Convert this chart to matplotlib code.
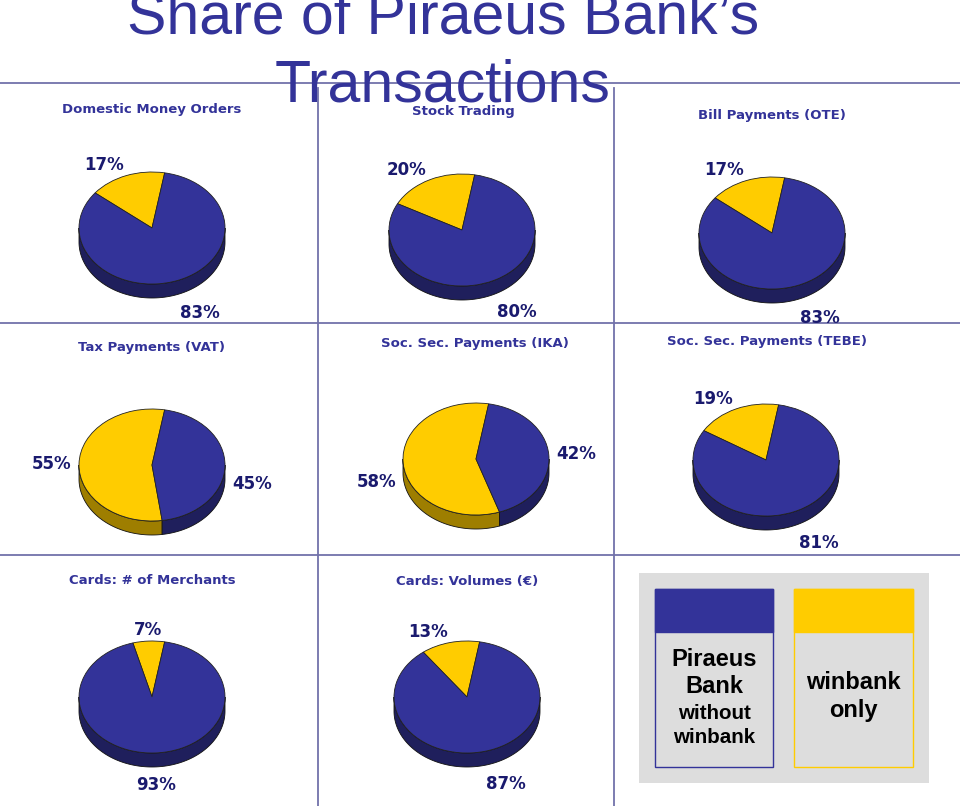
import numpy as np
import matplotlib.pyplot as plt
from matplotlib.patches import Polygon, Rectangle

# data
titles = ['Domestic Money Orders', 'Stock Trading', 'Bill Payments (OTE)',
          'Tax Payments (VAT)', 'Soc. Sec. Payments (IKA)', 'Soc. Sec. Payments (TEBE)',
          'Cards: # of Merchants', 'Cards: Volumes (€)']
winbank = [17, 20, 17, 55, 58, 19, 7, 13]
piraeus = [83, 80, 83, 45, 42, 81, 93, 87]

# layout in pixels (from top-left)
W, H = 960, 806
pie_cx = [152, 462, 772, 152, 476, 766, 152, 467]
pie_cy = [228, 230, 233, 465, 459, 460, 697, 697]
title_x = [152, 463, 772, 152, 475, 767, 152, 467]
title_y = [110, 111, 115, 347, 343, 342, 580, 581]

RX, RY, DEPTH = 73.0, 56.0, 0.25
BLUE, YELLOW = '#333399', '#FFCC00'
BLUE_SIDE, YELLOW_SIDE = '#1F1F5C', '#9E7E00'
LINE = '#7272AA'
NAVY = '#1A1A6E'

fig = plt.figure(figsize=(9.6, 8.06), dpi=100)

# background axes in pixel coords for lines, titles, legend
bg = fig.add_axes([0, 0, 1, 1])
bg.set_xlim(0, W)
bg.set_ylim(H, 0)
bg.axis('off')

for y in [83, 323, 555]:
    bg.plot([0, W], [y, y], color=LINE, lw=1.3)
for x in [318, 614]:
    bg.plot([x, x], [88, H], color=LINE, lw=1.3)

bg.text(443, 33, 'Share of Piraeus Bank\u2019s', ha='center', va='baseline',
        fontsize=42.5, family='Liberation Sans', color=BLUE)
bg.text(443, 102, 'Transactions', ha='center', va='baseline',
        fontsize=42.5, family='Liberation Sans', color=BLUE)

for i, t in enumerate(titles):
    bg.text(title_x[i], title_y[i], t, ha='center', va='center', fontsize=9.5,
            fontweight='bold', family='DejaVu Sans', color=BLUE)

# legend box
bg.add_patch(Rectangle((639, 573), 290, 210, fc='#DDDDDD', ec='none'))
bg.add_patch(Rectangle((655, 589), 118, 178, fc='none', ec=BLUE, lw=1))
bg.add_patch(Rectangle((655, 589), 118, 43, fc=BLUE, ec=BLUE, lw=1))
bg.add_patch(Rectangle((794, 589), 119, 178, fc='none', ec=YELLOW, lw=1))
bg.add_patch(Rectangle((794, 589), 119, 43, fc=YELLOW, ec=YELLOW, lw=1))
lf = dict(ha='center', va='baseline', family='Liberation Sans', fontweight='bold', color='black')
bg.text(714, 666, 'Piraeus', fontsize=17, **lf)
bg.text(714, 693, 'Bank', fontsize=17, **lf)
bg.text(714, 719, 'without', fontsize=14.8, **lf)
bg.text(714, 743, 'winbank', fontsize=14.8, **lf)
bg.text(853, 689, 'winbank', fontsize=17, **lf)
bg.text(853, 717, 'only', fontsize=17, **lf)

# pies
for i in range(8):
    cx, cy = pie_cx[i], pie_cy[i]
    ax = fig.add_axes([(cx - 110) / W, 1 - (cy + 100) / H, 220 / W, 200 / H])
    vals = [winbank[i], piraeus[i]]
    ax.pie(vals, colors=[YELLOW, BLUE], startangle=80, counterclock=True,
           wedgeprops=dict(edgecolor='#222222', linewidth=0.6))
    ax.set_aspect('auto')
    ax.set_xlim(-110 / RX, 110 / RX)
    ax.set_ylim(-100 / RY, 100 / RY)
    ax.axis('off')

    bounds = 80 + 360 * np.cumsum([0] + vals) / sum(vals)
    for k, sc in enumerate([YELLOW_SIDE, BLUE_SIDE]):
        a0, a1 = max(bounds[k], 180), min(bounds[k + 1], 360)
        if a1 > a0:
            t = np.radians(np.linspace(a0, a1, 120))
            xs = np.concatenate([np.cos(t), np.cos(t[::-1])])
            ys = np.concatenate([np.sin(t), np.sin(t[::-1]) - DEPTH])
            ax.add_patch(Polygon(np.column_stack([xs, ys]), closed=True, fc=sc,
                                 ec='#111111', lw=0.6, zorder=0.5))

    mids = (bounds[:-1] + bounds[1:]) / 2
    for k, m in enumerate(mids):
        c, s = np.cos(np.radians(m)), np.sin(np.radians(m))
        x, y = 1.1 * c, 1.1 * s
        if s < 0:
            y -= DEPTH + 0.07
        ha = 'left' if c > 0.1 else ('right' if c < -0.1 else 'center')
        va = 'baseline' if s > 0.1 else ('top' if s < -0.1 else 'center')
        ax.text(x, y, f'{vals[k]}%', ha=ha, va=va, fontsize=12, fontweight='bold',
                family='DejaVu Sans', color=NAVY)

fig.savefig('out.png', dpi=100)
